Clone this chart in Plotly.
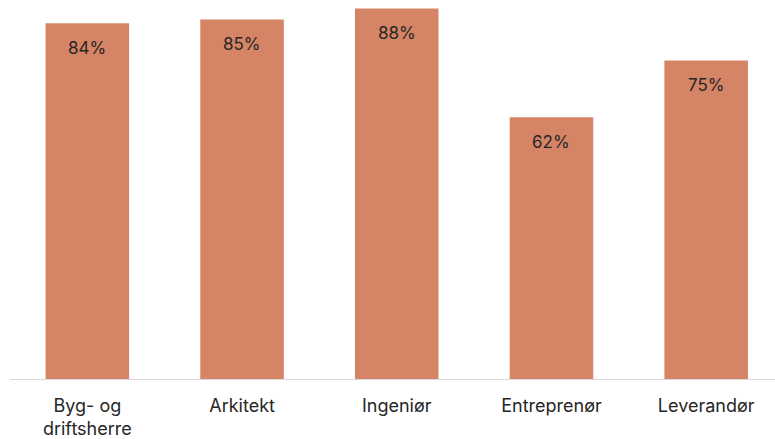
import plotly.graph_objects as go

categories = ["Byg- og<br>driftsherre", "Arkitekt", "Ingeniør", "Entreprenør", "Leverandør"]
shares = [0.841, 0.850, 0.876, 0.619, 0.753]

BAR_COLOR = "#D68466"
FONT = "Inter, DejaVu Sans, sans-serif"

fig = go.Figure()
fig.add_trace(go.Bar(
    x=categories,
    y=shares,
    marker=dict(color=BAR_COLOR, line=dict(width=0)),
    hoverinfo="skip",
    showlegend=False,
))

# value labels sit a fixed distance below each bar top
for cat, val in zip(categories, shares):
    fig.add_annotation(
        x=cat, y=val,
        text=f"{val:.0%}",
        showarrow=False,
        yanchor="middle",
        yshift=-25,
        font=dict(family=FONT, size=17, color="#262626"),
    )

fig.update_layout(
    width=775,
    height=439,
    bargap=0.46,
    plot_bgcolor="white",
    paper_bgcolor="white",
    margin=dict(l=10, r=0, t=0, b=58),
    xaxis=dict(
        range=[-0.5, 4.445],
        showline=True,
        linecolor="#d9d9d9",
        linewidth=1,
        ticks="",
        ticklabelstandoff=10,
        showgrid=False,
        tickfont=dict(family=FONT, size=18, color="#262626"),
    ),
    yaxis=dict(
        range=[0, 0.896],
        visible=False,
        showgrid=False,
        zeroline=False,
    ),
)

# drop the default 8px page margin so the figure sits at the window corner
fig.write_html(
    "out.html",
    config={"displayModeBar": False},
    post_script="document.body.style.margin='0';",
)
